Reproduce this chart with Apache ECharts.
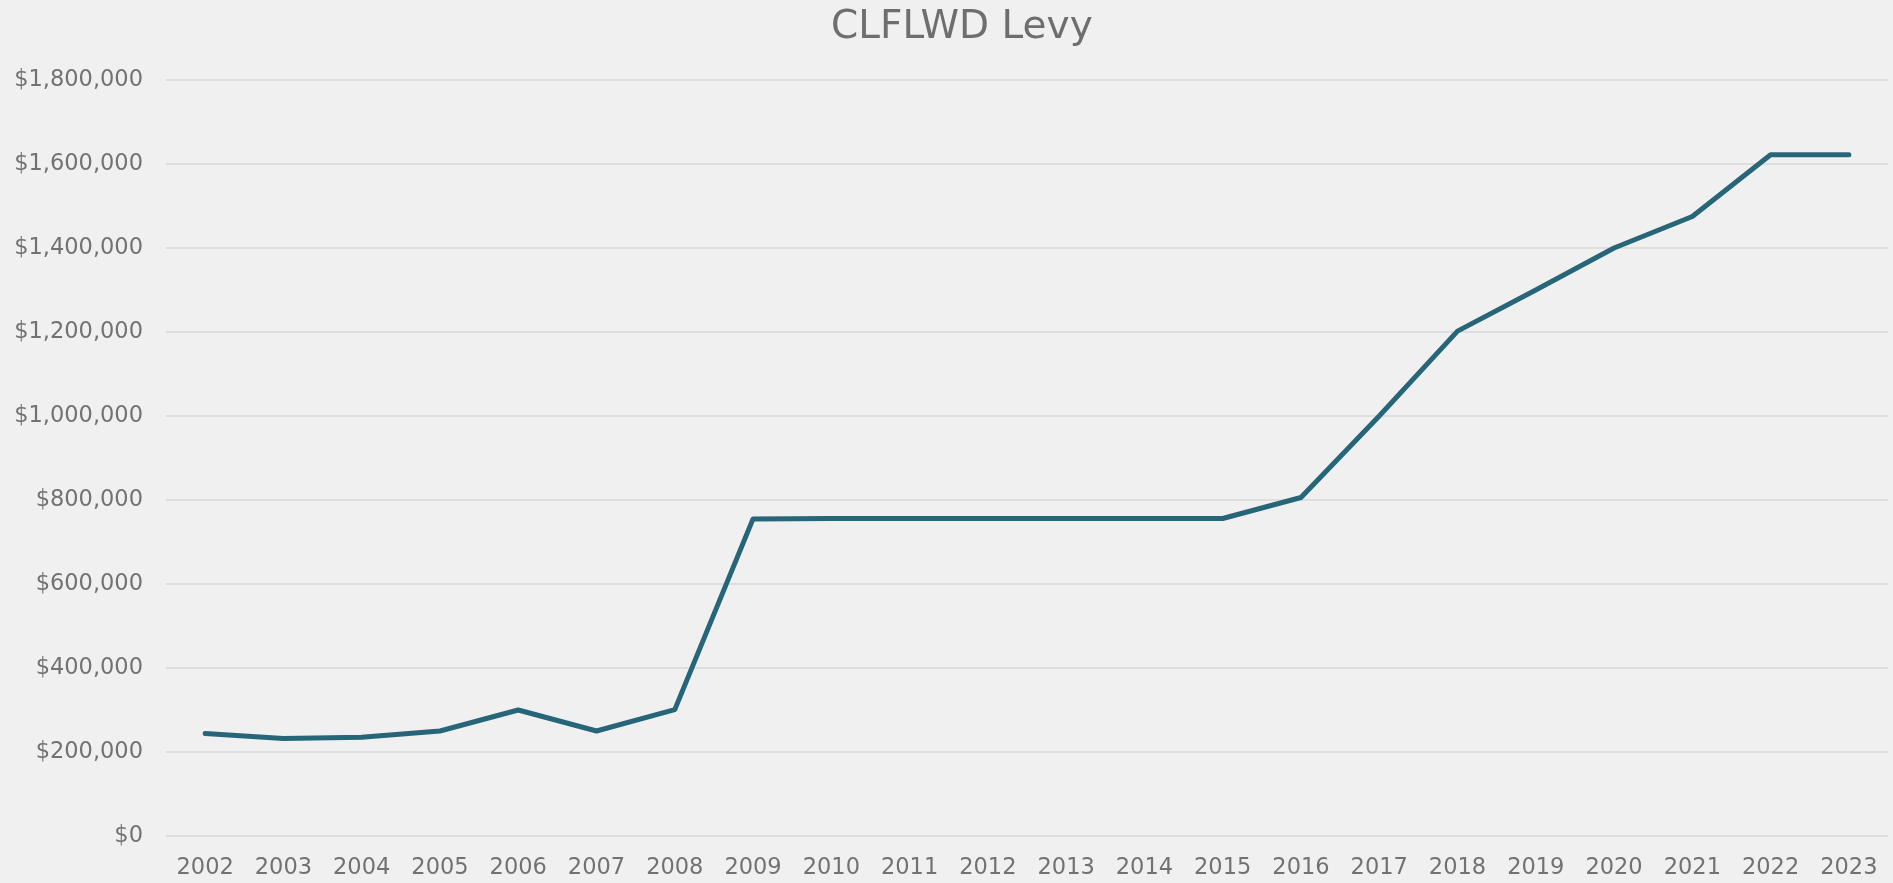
<!DOCTYPE html>
<html>
<head>
<meta charset="utf-8">
<script src="https://cdn.jsdelivr.net/npm/echarts@6/dist/echarts.min.js"></script>
<style>
html, body { margin: 0; padding: 0; background: #f0f0f0; }
#main { width: 1893px; height: 883px; }
</style>
</head>
<body>
<div id="main"></div>
<script>
var years = ['2002', '2003', '2004', '2005', '2006', '2007', '2008', '2009', '2010', '2011', '2012',
    '2013', '2014', '2015', '2016', '2017', '2018', '2019', '2020', '2021', '2022', '2023'];
var levy = [244000, 232000, 235000, 250000, 300000, 250000, 301000, 755000, 756000, 756000, 756000,
    756000, 756000, 756000, 806000, 1000000, 1202000, 1300000, 1400000, 1475000, 1622000, 1622000];

var myChart = echarts.init(document.getElementById('main'));
var font = 'DejaVu Sans';
var option = {
    backgroundColor: '#f0f0f0',
    title: {
        text: 'CLFLWD Levy',
        left: 826,
        top: 3,
        textStyle: { fontFamily: font, fontSize: 39, fontWeight: 'normal', color: '#6e6e6e' }
    },
    grid: { left: 166, right: 5, top: 80, bottom: 47 },
    xAxis: {
        type: 'category',
        data: years,
        boundaryGap: true,
        axisLine: { show: false },
        axisTick: { show: false },
        axisLabel: { fontFamily: font, fontSize: 22.5, color: '#727272', margin: 21 }
    },
    yAxis: {
        type: 'value',
        min: 0,
        max: 1800000,
        interval: 200000,
        axisLine: { show: false },
        axisTick: { show: false },
        splitLine: { lineStyle: { color: '#d9d9d9', width: 1.5 } },
        axisLabel: {
            fontFamily: font, fontSize: 22.5, color: '#727272', margin: 23,
            formatter: function (v) {
                return '$' + v.toLocaleString('en-US');
            }
        }
    },
    series: [{
        type: 'line',
        data: levy,
        symbol: 'none',
        lineStyle: { color: '#276678', width: 5, cap: 'round', join: 'round' }
    }]
};
myChart.setOption(option);
</script>
</body>
</html>
